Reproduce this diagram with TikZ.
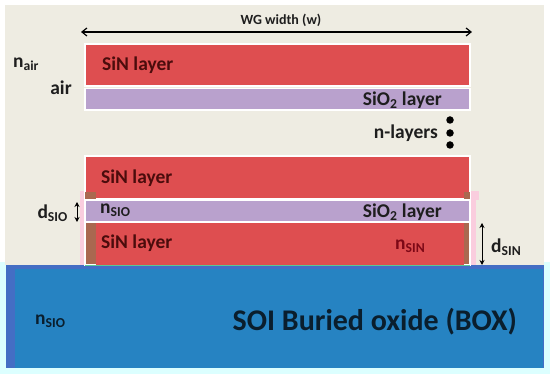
\documentclass[tikz,border=0pt]{standalone}
\usepackage{fontspec}
\setmainfont{Carlito}
\usetikzlibrary{arrows.meta}
\definecolor{beige}{RGB}{238,236,226}
\definecolor{sinred}{RGB}{222,78,80}
\definecolor{siopurple}{RGB}{185,161,205}
\definecolor{boxblue}{RGB}{38,131,194}
\definecolor{boxedge}{RGB}{68,110,196}
\definecolor{pale}{RGB}{220,255,255}
\definecolor{pinkish}{RGB}{250,205,222}
\definecolor{brownish}{RGB}{170,104,80}
\definecolor{darktext}{RGB}{30,30,30}
\definecolor{maroontext}{RGB}{75,12,12}
\definecolor{nsinred}{RGB}{125,8,22}
\definecolor{bluetext}{RGB}{10,30,45}
\definecolor{greenline}{RGB}{90,200,150}
\begin{document}
\begin{tikzpicture}[x=1pt,y=-1pt,
  layer/.style={draw=white,line width=1.2pt},
  sinlbl/.style={font=\bfseries\fontsize{19.5}{19.5}\selectfont,text=maroontext,inner sep=0pt,anchor=west},
  siolbl/.style={font=\bfseries\fontsize{19.5}{19.5}\selectfont,text=darktext,inner sep=0pt,anchor=east},
  sidelbl/.style={font=\bfseries\fontsize{19.5}{19.5}\selectfont,text=darktext,inner sep=0pt},
  dimarrow/.style={{Stealth[length=5pt,width=5pt]}-{Stealth[length=5pt,width=5pt]},line width=1pt,black},
  dot/.style={circle,fill=black,inner sep=0pt,minimum size=7.5pt}]
\useasboundingbox (0,0) rectangle (550,374);
\fill[white] (0,0) rectangle (550,374);
\fill[pale] (0,262) rectangle (550,374);
\fill[beige] (5,5) rectangle (544,265);
% pink halo behind bottom stack
\fill[pinkish] (80,191) rectangle (476,268);
\fill[pinkish] (470,191) rectangle (479,200);
% BOX
\fill[boxedge] (6,265) rectangle (544,368);
\fill[boxblue] (15,269) rectangle (543,368);
% top stack
\filldraw[layer,fill=sinred] (85,44) rectangle (470,86);
\filldraw[layer,fill=siopurple] (85,88.5) rectangle (470,110);
% bottom stack
\filldraw[layer,fill=sinred] (85,156) rectangle (470,199);
\fill[brownish] (85,192) rectangle (96,199);
\fill[brownish] (464,192) rectangle (470,199);
\filldraw[layer,fill=brownish] (85,222.5) rectangle (470,265);
\fill[sinred] (96,223) rectangle (464,265);
\filldraw[layer,fill=siopurple] (85,200.5) rectangle (470,221.5);
\draw[greenline,line width=0.8pt] (85,265.2) -- (470,265.2);
% width arrow
\coordinate (wgL) at (81,32);
\coordinate (wgR) at (472,32);
\draw[{Straight Barb[length=5pt,width=8pt]}-{Straight Barb[length=5pt,width=8pt]},line width=1.2pt] (wgL) -- (wgR);
\node[font=\bfseries\fontsize{14}{14}\selectfont,text=darktext,inner sep=0pt] (wg) at (281,20) {WG width (w)};
% labels
\node[sidelbl] (nair) at (26,64) {n\textsubscript{air}};
\node[sidelbl] (air) at (61,88) {air};
\node[sinlbl] (sin1) at (102,65) {SiN layer};
\node[siolbl] (sio1) at (442,100) {SiO\textsubscript{2} layer};
\node[sidelbl,anchor=east] (nlayers) at (438,133) {n-layers};
\node[dot] (d1) at (450,120) {};
\node[dot] (d2) at (450,133) {};
\node[dot] (d3) at (450,145) {};
\node[sinlbl] (sin2) at (101,178) {SiN layer};
\node[sidelbl,anchor=west] (nsio) at (100,210) {n\textsubscript{SIO}};
\node[siolbl] (sio2) at (442,212) {SiO\textsubscript{2} layer};
\node[sinlbl] (sin3) at (101,243) {SiN layer};
\node[sidelbl,text=nsinred,anchor=west] (nsin) at (395,246) {n\textsubscript{SIN}};
\node[sidelbl,anchor=east] (dsio) at (68,213) {d\textsubscript{SIO}};
\coordinate (dsioT) at (77,202);
\coordinate (dsioB) at (77,222);
\draw[dimarrow] (dsioT) -- (dsioB);
\coordinate (dsinT) at (482,223);
\coordinate (dsinB) at (482,265);
\draw[dimarrow] (dsinT) -- (dsinB);
\node[sidelbl,anchor=west] (dsin) at (491,247) {d\textsubscript{SIN}};
\node[sidelbl,text=bluetext,anchor=west] (nsiobox) at (35,321) {n\textsubscript{SIO}};
\node[font=\bfseries\fontsize{30}{30}\selectfont,text=bluetext,inner sep=0pt,anchor=east] (boxlbl) at (517,322) {SOI Buried oxide (BOX)};
\end{tikzpicture}
\end{document}
